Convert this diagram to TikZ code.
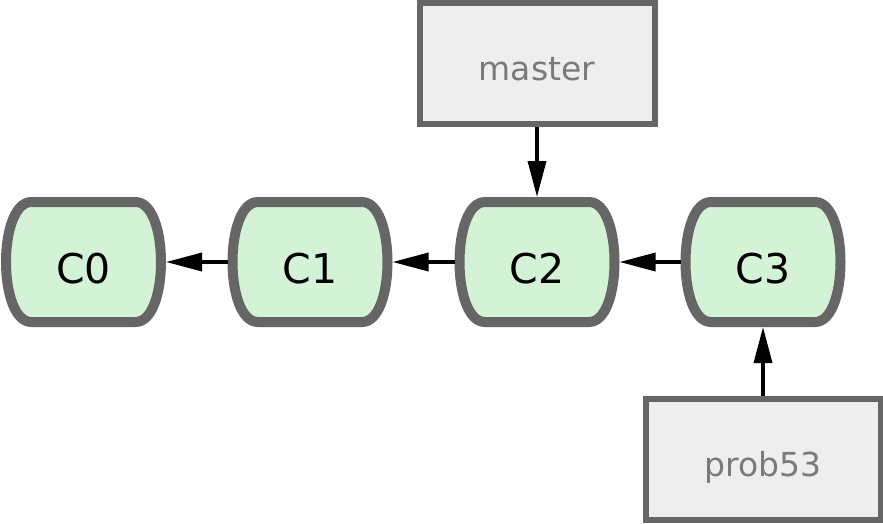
\documentclass[tikz,border=0pt]{standalone}
\usepackage{fontspec}
\setmainfont{DejaVu Sans}
\usetikzlibrary{arrows.meta}
\definecolor{commitfill}{HTML}{D4F3D6}
\definecolor{edge}{HTML}{666666}
\definecolor{boxfill}{HTML}{EEEEEE}
\definecolor{boxtext}{HTML}{7A7A7A}
\tikzset{
  commitline/.style={draw=edge, fill=commitfill, line width=10pt, line join=round},
  commit/.style={draw=none, inner sep=0pt, outer sep=0pt, minimum width=165pt, minimum height=130pt,
    font=\fontsize{41}{41}\selectfont, text height=42pt, text depth=0pt},
  branch/.style={draw=edge, fill=boxfill, line width=6pt, inner sep=0pt, minimum width=235pt, minimum height=121pt,
    text=boxtext, font=\fontsize{33}{33}\selectfont, text height=34pt, text depth=0pt},
  link/.style={line width=3.5pt, -{Triangle[length=36pt,width=18pt]}}
}
\begin{document}
\begin{tikzpicture}[x=1pt,y=-1pt]
\useasboundingbox (0,0) rectangle (883,523);
\foreach \n/\x/\t in {c0/83.5/C0, c1/310/C1, c2/537/C2, c3/763/C3} {
  \draw[commitline] (\x-52,202) -- (\x+52,202)
    .. controls (\x+86,202) and (\x+86,322) .. (\x+52,322)
    -- (\x-52,322)
    .. controls (\x-86,322) and (\x-86,202) .. cycle;
  \node[commit] (\n) at (\x,262) {\t};
}
\node[branch] (master) at (537,63.5) {master};
\node[branch] (prob53) at (763,459.5) {prob53};
\draw[link] (c1.west) -- (c0.east);
\draw[link] (c2.west) -- (c1.east);
\draw[link] (c3.west) -- (c2.east);
\draw[link] (master.south) -- (c2.north);
\draw[link] (prob53.north) -- (c3.south);
\end{tikzpicture}
\end{document}
